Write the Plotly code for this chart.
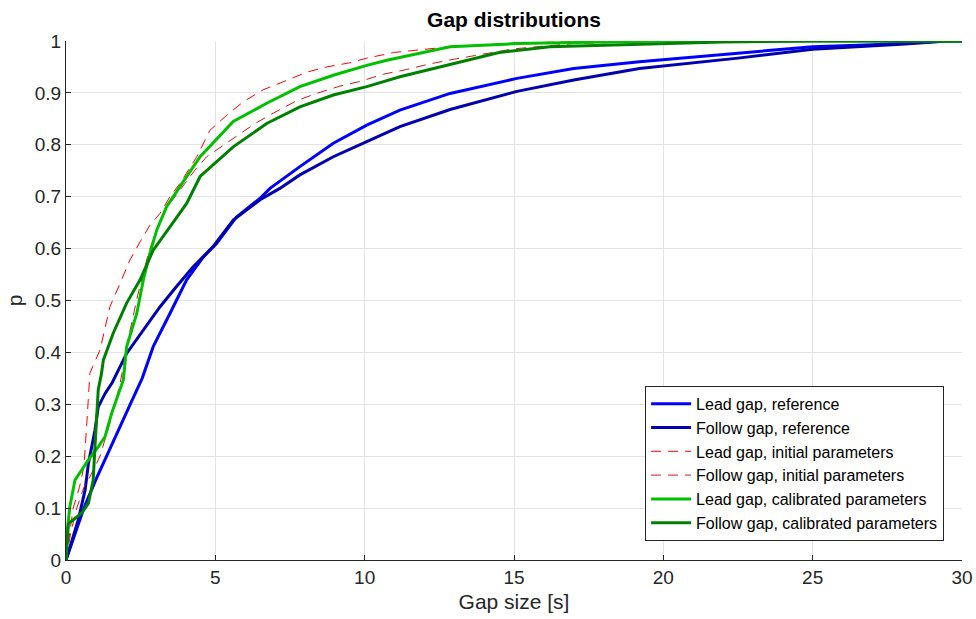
import plotly.graph_objects as go

# ---- data ----
lead_ref_x = [0, 0.3, 0.6, 1.0, 1.35, 1.75, 2.15, 2.55, 2.92, 3.48, 4.04, 4.6, 5.04, 5.71, 6.5, 6.83, 7.83, 8.95, 10.07, 11.18, 12.86, 15.1, 17.0, 19.2, 22.5, 25.0, 27.0, 28.4, 29.5, 30.0]
lead_ref_y = [0, 0.05, 0.10, 0.155, 0.20, 0.25, 0.30, 0.35, 0.411, 0.475, 0.54, 0.584, 0.61, 0.661, 0.697, 0.716, 0.758, 0.803, 0.838, 0.867, 0.899, 0.928, 0.947, 0.96, 0.976, 0.989, 0.993, 0.997, 1.0, 1.0]

follow_ref_x = [0, 0.2, 0.41, 0.64, 0.75, 0.97, 1.08, 1.31, 1.55, 2.03, 2.59, 3.15, 3.7, 4.26, 4.93, 5.6, 6.5, 7.16, 7.83, 8.95, 10.07, 11.18, 12.86, 15.1, 17.0, 19.2, 22.5, 25.0, 28.1, 29.5, 30.0]
follow_ref_y = [0, 0.04, 0.077, 0.135, 0.186, 0.25, 0.295, 0.321, 0.342, 0.398, 0.443, 0.488, 0.527, 0.565, 0.604, 0.655, 0.694, 0.716, 0.742, 0.777, 0.806, 0.835, 0.868, 0.903, 0.925, 0.947, 0.967, 0.984, 0.994, 1.0, 1.0]

lead_init_x = [0, 0.1, 0.24, 0.45, 0.6, 0.69, 0.8, 1.14, 1.47, 1.81, 2.14, 2.48, 2.81, 3.15, 3.48, 3.82, 4.38, 4.82, 5.38, 5.94, 6.6, 7.39, 8.06, 8.73, 9.5, 10.07, 11.0, 12.86, 15.0, 18.0, 30.0]
lead_init_y = [0, 0.04, 0.10, 0.14, 0.18, 0.257, 0.36, 0.405, 0.488, 0.533, 0.578, 0.613, 0.645, 0.668, 0.70, 0.726, 0.777, 0.828, 0.857, 0.883, 0.906, 0.924, 0.94, 0.95, 0.958, 0.967, 0.978, 0.989, 0.996, 1.0, 1.0]

follow_init_x = [0, 0.15, 0.36, 0.6, 0.8, 1.14, 1.5, 1.81, 2.1, 2.4, 2.76, 3.15, 3.48, 3.82, 4.3, 4.71, 5.6, 6.33, 6.94, 7.72, 8.39, 9.17, 9.84, 10.62, 11.4, 12.19, 13.0, 14.0, 15.0, 17.0, 20.0, 30.0]
follow_init_y = [0, 0.05, 0.10, 0.14, 0.16, 0.20, 0.27, 0.34, 0.43, 0.51, 0.591, 0.655, 0.687, 0.713, 0.75, 0.777, 0.812, 0.841, 0.861, 0.885, 0.899, 0.913, 0.922, 0.936, 0.945, 0.956, 0.965, 0.975, 0.985, 0.995, 1.0, 1.0]

lead_cal_x = [0, 0.05, 0.13, 0.3, 0.52, 0.75, 1.08, 1.31, 1.53, 1.75, 1.92, 2.03, 2.37, 2.59, 2.81, 3.04, 3.37, 3.82, 4.49, 5.6, 6.72, 7.83, 8.95, 10.07, 10.74, 12.86, 15.1, 18.0, 20.0, 30.0]
lead_cal_y = [0, 0.06, 0.103, 0.154, 0.173, 0.193, 0.218, 0.238, 0.283, 0.321, 0.347, 0.411, 0.475, 0.54, 0.591, 0.636, 0.681, 0.72, 0.777, 0.845, 0.88, 0.912, 0.934, 0.953, 0.963, 0.989, 0.995, 0.998, 1.0, 1.0]

follow_cal_x = [0, 0.08, 0.3, 0.52, 0.75, 0.91, 0.97, 1.03, 1.08, 1.19, 1.25, 1.58, 2.03, 2.48, 2.92, 3.48, 4.04, 4.49, 5.6, 6.72, 7.83, 8.95, 10.07, 11.18, 12.3, 12.86, 14.5, 16.2, 19.55, 22.0, 25.0, 30.0]
follow_cal_y = [0, 0.07, 0.08, 0.09, 0.109, 0.154, 0.218, 0.283, 0.328, 0.36, 0.385, 0.437, 0.495, 0.54, 0.597, 0.642, 0.687, 0.739, 0.796, 0.841, 0.873, 0.896, 0.912, 0.931, 0.947, 0.956, 0.978, 0.989, 0.995, 0.998, 1.0, 1.0]

series_names = [
    "Lead gap, reference",
    "Follow gap, reference",
    "Lead gap, initial parameters",
    "Follow gap, initial parameters",
    "Lead gap, calibrated parameters",
    "Follow gap, calibrated parameters",
]

x_ticks = [0, 5, 10, 15, 20, 25, 30]
y_ticks = [0, 0.1, 0.2, 0.3, 0.4, 0.5, 0.6, 0.7, 0.8, 0.9, 1]

# ---- figure ----
styles = [
    dict(color="#0000FF", width=3, dash="solid"),
    dict(color="#0000B0", width=3, dash="solid"),
    dict(color="#FF0000", width=1, dash="10px,7px"),
    dict(color="#D01818", width=1, dash="10px,7px"),
    dict(color="#00C000", width=3, dash="solid"),
    dict(color="#008000", width=3, dash="solid"),
]
data = [
    (lead_ref_x, lead_ref_y),
    (follow_ref_x, follow_ref_y),
    (lead_init_x, lead_init_y),
    (follow_init_x, follow_init_y),
    (lead_cal_x, lead_cal_y),
    (follow_cal_x, follow_cal_y),
]

fig = go.Figure()
for (xs, ys), name, st in zip(data, series_names, styles):
    fig.add_trace(go.Scatter(x=xs, y=ys, mode="lines", name=name, line=st))

font_family = "Liberation Sans, Arial, sans-serif"
axis_common = dict(
    showline=True, linecolor="#262626", linewidth=1, mirror=False,
    ticks="inside", ticklen=5, tickcolor="#262626",
    showgrid=True, gridcolor="#E3E3E3", gridwidth=1,
    zeroline=False, automargin=False,
    tickfont=dict(family=font_family, size=19, color="#262626"),
)

fig.update_layout(
    width=976, height=619,
    margin=dict(l=66, r=14, t=41, b=59),
    paper_bgcolor="white", plot_bgcolor="white",
    font=dict(family=font_family, color="#262626"),
    title=dict(text="<b>Gap distributions</b>", xref="paper", x=0.5, xanchor="center",
               yref="container", y=1 - 19.5 / 619, yanchor="middle",
               font=dict(family=font_family, size=21, color="#000000")),
    xaxis=dict(range=[0, 30], tickvals=x_ticks,
               title=dict(text="Gap size [s]", font=dict(size=21, family=font_family, color="#262626"), standoff=7),
               **axis_common),
    yaxis=dict(range=[0, 1], tickvals=y_ticks,
               title=dict(text="p", font=dict(size=21, family=font_family, color="#262626"), standoff=6),
               **axis_common),
    legend=dict(x=0.98, y=0.037, xanchor="right", yanchor="bottom",
                bgcolor="white", bordercolor="#262626", borderwidth=1,
                font=dict(family=font_family, size=16, color="#000000"),
                tracegroupgap=0, itemwidth=40),
    showlegend=True,
)

fig.write_html("out.html")
